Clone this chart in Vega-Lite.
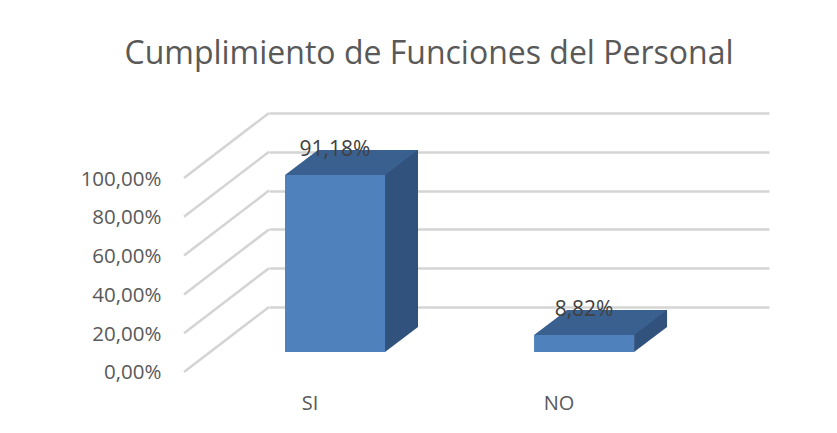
{
  "$schema": "https://vega.github.io/schema/vega-lite/v6.json",
  "width": 500,
  "height": 290,
  "autosize": "none",
  "padding": {"left": 269, "top": 100, "right": 68, "bottom": 43},
  "background": "white",
  "config": {
    "view": {"stroke": null},
    "font": "Open Sans",
    "locale": {"number": {"decimal": ",", "thousands": ".", "grouping": [3], "currency": ["", " €"]}}
  },
  "title": {
    "text": "Cumplimiento de Funciones del Personal",
    "font": "Open Sans",
    "fontSize": 32,
    "fontWeight": "normal",
    "color": "#595959",
    "anchor": "middle",
    "offset": 0,
    "dx": -90,
    "dy": -29
  },
  "data": {"values": [
    {"categoria": "SI", "valor": 0.9118},
    {"categoria": "NO", "valor": 0.0882}
  ]},
  "layer": [
    {
      "data": {"values": [{"t": 0}, {"t": 0.2}, {"t": 0.4}, {"t": 0.6}, {"t": 0.8}, {"t": 1}]},
      "mark": {"type": "point", "shape": "M-151,20L-66,-45", "size": 4, "filled": false, "stroke": "#d4d4d4", "strokeWidth": 2.5, "opacity": 1, "clip": false},
      "encoding": {
        "x": {"datum": "SI", "type": "nominal",
              "scale": {"type": "band", "domain": ["SI", "NO"], "paddingInner": 0.5984, "paddingOuter": 0.303, "align": 0.106},
              "axis": {"title": null, "domain": false, "ticks": false, "tickSize": 0, "grid": false, "labelAngle": 0, "labelOffset": -25, "labelPadding": 3, "labelFont": "Open Sans", "labelFontSize": 20, "labelColor": "#595959"}},
        "y": {"field": "t", "type": "quantitative",
              "scale": {"domain": [-0.19588, 1.29897], "zero": false, "nice": false},
              "axis": {"title": null, "values": [0, 0.2, 0.4, 0.6, 0.8, 1], "format": ".2%", "domain": false, "ticks": false, "tickSize": 0, "grid": true, "gridColor": "#d4d4d4", "gridWidth": 2.5, "tickOffset": -45, "labelOffset": 66, "labelPadding": 108, "labelFont": "Open Sans", "labelFontSize": 20.5, "labelColor": "#595959"}}
      }
    },
    {
      "mark": {"type": "bar", "width": 33, "xOffset": 66.5, "yOffset": -25, "color": "#32527e"},
      "encoding": {
        "x": {"field": "categoria", "type": "nominal"},
        "y": {"field": "valor", "type": "quantitative"},
        "y2": {"datum": 0}
      }
    },
    {
      "mark": {"type": "bar", "color": "#4f81bd"},
      "encoding": {
        "x": {"field": "categoria", "type": "nominal"},
        "y": {"field": "valor", "type": "quantitative"},
        "y2": {"datum": 0}
      }
    },
    {
      "mark": {"type": "point", "shape": "M-50,0L50,0L83,-25L-17,-25Z", "size": 4, "filled": true, "fill": "#3a608f", "strokeWidth": 0, "opacity": 1, "clip": false},
      "encoding": {
        "x": {"field": "categoria", "type": "nominal"},
        "y": {"field": "valor", "type": "quantitative"}
      }
    },
    {
      "mark": {"type": "point", "shape": "M50,0L83,-25L85,-25L85,2L50,2Z", "size": 4, "filled": true, "fill": "white", "strokeWidth": 0, "opacity": 1, "clip": false},
      "encoding": {
        "x": {"field": "categoria", "type": "nominal"},
        "y": {"datum": 0, "type": "quantitative"}
      }
    },
    {
      "mark": {"type": "text", "yOffset": -25, "fontSize": 21, "font": "Open Sans", "color": "#404040", "baseline": "middle", "align": "center"},
      "encoding": {
        "x": {"field": "categoria", "type": "nominal"},
        "y": {"field": "valor", "type": "quantitative"},
        "text": {"field": "valor", "type": "quantitative", "format": ".2%"}
      }
    }
  ]
}
